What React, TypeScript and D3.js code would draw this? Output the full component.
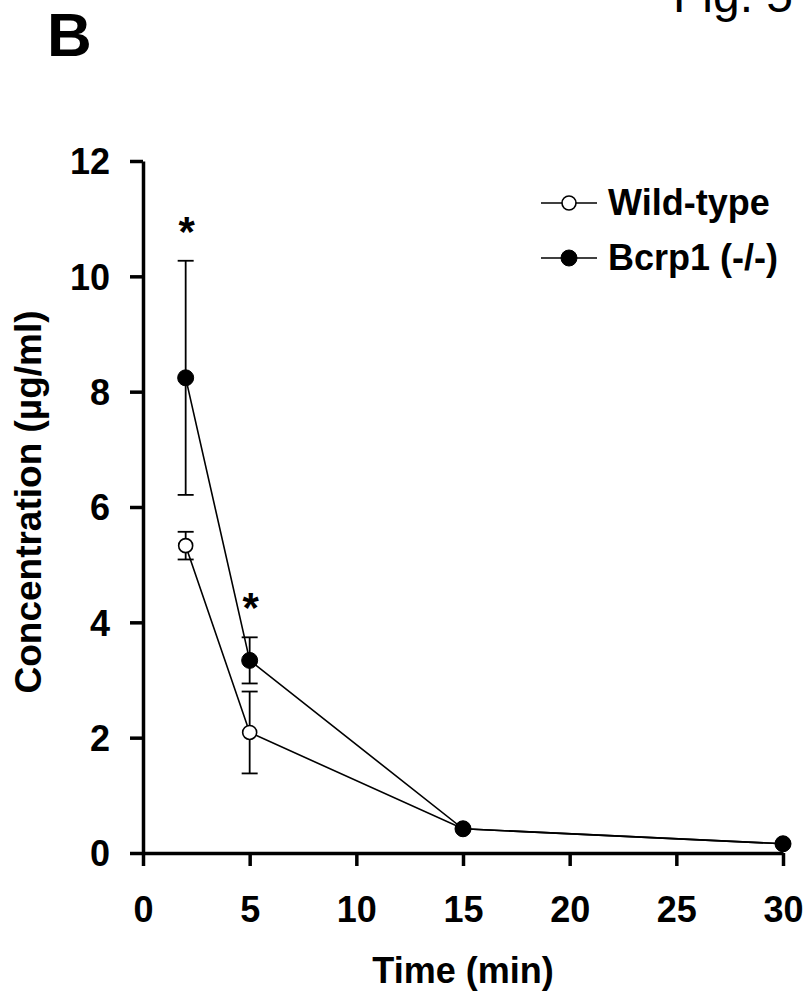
import React, { useEffect, useRef } from "react";
import * as d3 from "d3";

// sampling times (min)
const times = [2, 5, 15, 30];
// wild-type mice
const wildType = [5.33, 2.09, 0.42, 0.16];
const wildTypeSD = [0.24, 0.71, 0, 0];
// Bcrp1 knockout mice
const bcrp1 = [8.24, 3.34, 0.42, 0.16];
const bcrp1SD = [2.03, 0.4, 0, 0];
// significance markers
const starTimes = [2, 5];

const xTicks = [0, 5, 10, 15, 20, 25, 30];
const yTicks = [0, 2, 4, 6, 8, 10, 12];
const legendNames = ["Wild-type", "Bcrp1 (-/-)"];

const W = 803;
const H = 997;
const FONT = "'Liberation Sans', Arial, Helvetica, sans-serif";

function App() {
  const ref = useRef<SVGSVGElement>(null);

  useEffect(() => {
    const svg = d3.select(ref.current);
    svg.selectAll("*").remove();

    const x = d3.scaleLinear().domain([0, 30]).range([143, 783]);
    const y = d3.scaleLinear().domain([0, 12]).range([853, 161]);

    // panel letter and figure label (cut at the top, as in the original)
    svg.append("text").attr("x", 47).attr("y", 56)
      .attr("font-family", FONT).attr("font-weight", "bold").attr("font-size", 62)
      .text("B");
    svg.append("text").attr("x", 673).attr("y", 12)
      .attr("font-family", FONT).attr("font-size", 48)
      .text("Fig. 5");

    // axes
    const yAxis = d3.axisLeft(y).tickValues(yTicks).tickSize(13).tickSizeOuter(0).tickPadding(20);
    const xAxis = d3.axisBottom(x).tickValues(xTicks).tickSize(13).tickSizeOuter(0).tickPadding(30);

    const gy = svg.append("g").attr("transform", `translate(${x(0)},0)`).call(yAxis);
    const gx = svg.append("g").attr("transform", `translate(0,${y(0)})`).call(xAxis);

    [gx, gy].forEach((g) => {
      g.select(".domain").attr("stroke", "#000").attr("stroke-width", 3.5);
      g.selectAll(".tick line").attr("stroke", "#000").attr("stroke-width", 3.5);
      g.selectAll(".tick text")
        .attr("fill", "#000")
        .attr("font-family", FONT)
        .attr("font-weight", "bold")
        .attr("font-size", 36);
    });
    gy.selectAll(".tick text").attr("dy", "0.36em");

    // axis titles
    svg.append("text")
      .attr("x", x(15)).attr("y", 983)
      .attr("text-anchor", "middle")
      .attr("font-family", FONT).attr("font-weight", "bold").attr("font-size", 36)
      .text("Time (min)");
    svg.append("text")
      .attr("transform", `translate(41,${502}) rotate(-90)`)
      .attr("text-anchor", "middle")
      .attr("font-family", FONT).attr("font-weight", "bold").attr("font-size", 37)
      .text("Concentration (µg/ml)");

    const series = [
      { vals: wildType, sd: wildTypeSD, filled: false },
      { vals: bcrp1, sd: bcrp1SD, filled: true },
    ];

    const line = d3.line<number>()
      .x((_, i) => x(times[i]))
      .y((d) => y(d));

    series.forEach((s) => {
      svg.append("path")
        .attr("d", line(s.vals))
        .attr("fill", "none")
        .attr("stroke", "#000")
        .attr("stroke-width", 1.6);
    });

    // error bars
    series.forEach((s) => {
      s.vals.forEach((v, i) => {
        if (!s.sd[i]) return;
        const cx = x(times[i]);
        const g = svg.append("g").attr("stroke", "#000").attr("stroke-width", 1.8);
        g.append("line").attr("x1", cx).attr("x2", cx)
          .attr("y1", y(v - s.sd[i])).attr("y2", y(v + s.sd[i]));
        [v - s.sd[i], v + s.sd[i]].forEach((e) => {
          g.append("line").attr("x1", cx - 8).attr("x2", cx + 8)
            .attr("y1", y(e)).attr("y2", y(e));
        });
      });
    });

    // markers
    series.forEach((s) => {
      svg.append("g").selectAll("circle")
        .data(s.vals)
        .enter()
        .append("circle")
        .attr("cx", (_, i) => x(times[i]))
        .attr("cy", (d) => y(d))
        .attr("r", s.filled ? 8 : 7)
        .attr("fill", s.filled ? "#000" : "#fff")
        .attr("stroke", "#000")
        .attr("stroke-width", s.filled ? 1 : 1.6);
    });

    // asterisks above the upper error bar
    starTimes.forEach((t) => {
      const i = times.indexOf(t);
      svg.append("text")
        .attr("x", x(t) + 1)
        .attr("y", y(bcrp1[i] + bcrp1SD[i]) - 15)
        .attr("text-anchor", "middle")
        .attr("font-family", FONT).attr("font-weight", "bold").attr("font-size", 42)
        .text("*");
    });

    // legend
    legendNames.forEach((name, i) => {
      const ly = 203 + i * 55;
      const g = svg.append("g");
      g.append("line").attr("x1", 541).attr("x2", 597).attr("y1", ly).attr("y2", ly)
        .attr("stroke", "#000").attr("stroke-width", 1.6);
      g.append("circle").attr("cx", 569).attr("cy", ly)
        .attr("r", i === 0 ? 7 : 8)
        .attr("fill", i === 0 ? "#fff" : "#000")
        .attr("stroke", "#000").attr("stroke-width", i === 0 ? 1.6 : 1);
      g.append("text").attr("x", 608).attr("y", ly + 12)
        .attr("font-family", FONT).attr("font-weight", "bold").attr("font-size", 36)
        .text(name);
    });
  }, []);

  return (
    <svg
      ref={ref}
      width={W}
      height={H}
      style={{ position: "absolute", left: 0, top: 0, background: "#fff" }}
    />
  );
}

export default App;
